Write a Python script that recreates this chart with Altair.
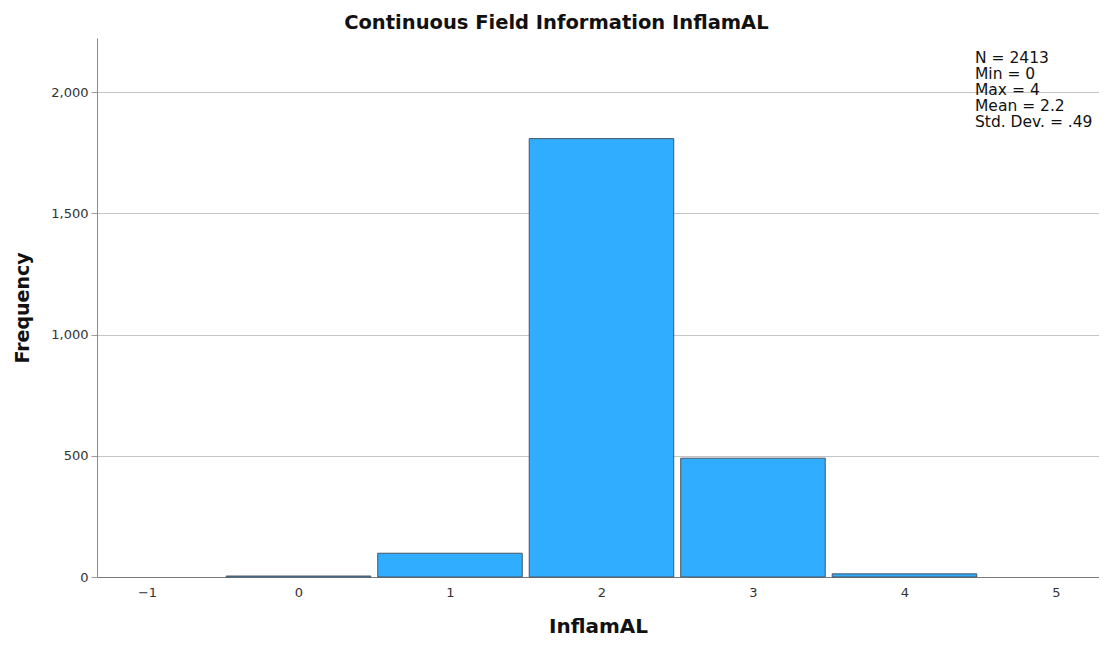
import altair as alt
import pandas as pd

categories = [0, 1, 2, 3, 4]
frequencies = [4, 98, 1808, 490, 13]
x_ticks = [-1, 0, 1, 2, 3, 4, 5]
y_ticks = [0, 500, 1000, 1500, 2000]
stats_lines = ["N = 2413", "Min = 0", "Max = 4", "Mean = 2.2", "Std. Dev. = .49"]

HALF = 0.477
df = pd.DataFrame({
    "value": categories,
    "freq": frequencies,
})
df["start"] = df["value"] - HALF
df["end"] = df["value"] + HALF

FONT = "DejaVu Sans"

xscale = alt.Scale(domain=[-1.33, 5.284], nice=False, zero=False)
yscale = alt.Scale(domain=[0, 2223], nice=False)

bars = alt.Chart(df).mark_bar(
    color="#31adff", stroke="#4a5560", strokeWidth=1
).encode(
    x=alt.X("start:Q", scale=xscale,
            axis=alt.Axis(values=x_ticks, title="InflamAL", grid=False, ticks=False,
                          labelFont=FONT, labelFontSize=13, labelColor="#333333",
                          labelPadding=9, domainColor="#7a7a7a", domainWidth=1.2,
                          titleFont=FONT, titleFontSize=20, titleFontWeight="bold",
                          titleColor="#111111", titlePadding=17)),
    x2="end:Q",
    y=alt.Y("freq:Q", scale=yscale,
            axis=alt.Axis(values=y_ticks, format=",.0f", title="Frequency", grid=True,
                          gridColor="#c4c4c4", gridWidth=1, tickColor="#9a9a9a",
                          tickSize=6, labelFont=FONT, labelFontSize=13,
                          labelColor="#333333", labelPadding=3, domainColor="#8a8a8a",
                          titleFont=FONT, titleFontSize=19, titleFontWeight="bold",
                          titleColor="#111111", titlePadding=18)),
    y2=alt.datum(0),
)

stats = alt.Chart(pd.DataFrame({"t": ["\n".join(stats_lines)]})).mark_text(
    align="left", baseline="top", font=FONT, fontSize=15.5, lineHeight=16,
    lineBreak="\n", color="#111111"
).encode(
    x=alt.value(878), y=alt.value(13), text="t:N"
)

chart = alt.layer(bars, stats).properties(
    width=1002, height=539,
    background="white",
    title=alt.TitleParams("Continuous Field Information InflamAL", font=FONT,
                          fontSize=19.5, fontWeight="bold", color="#111111",
                          anchor="middle", frame="bounds", offset=5),
    autosize=alt.AutoSizeParams(type="none"),
    padding={"left": 89, "top": 30, "right": 0, "bottom": 60},
).configure_view(strokeWidth=0)

chart.save("out.html", embed_options={"renderer": "svg", "actions": False})
